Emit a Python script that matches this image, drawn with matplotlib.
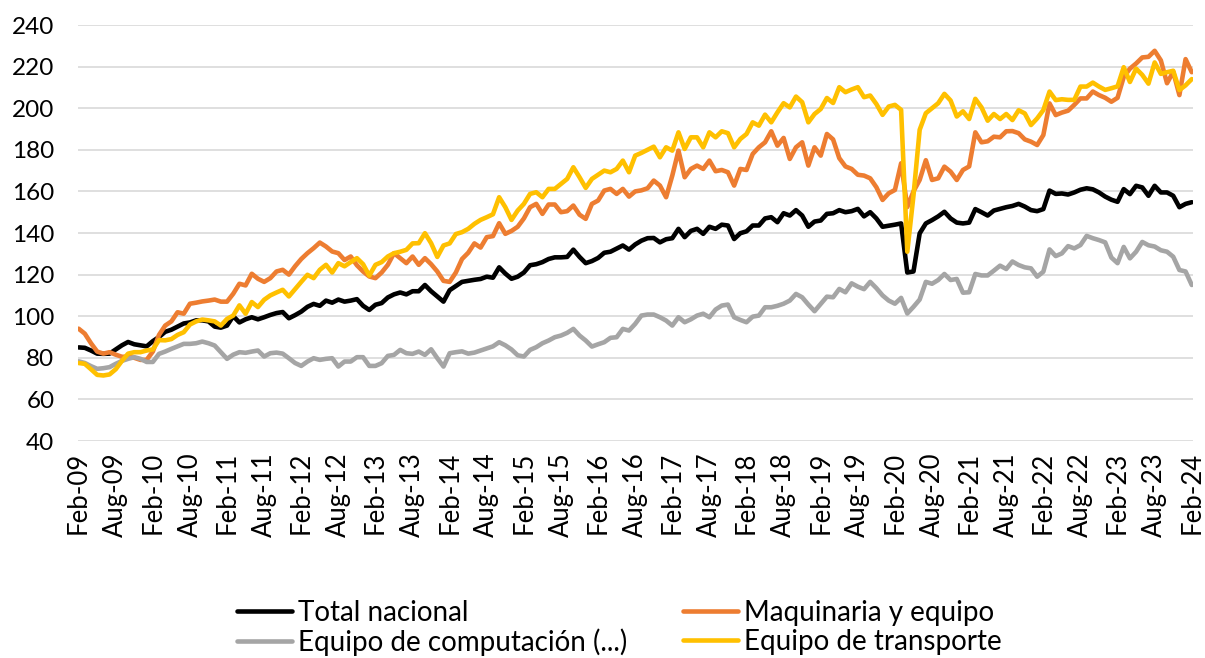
import numpy as np
import pandas as pd
import matplotlib
matplotlib.use("Agg")
import matplotlib.pyplot as plt

plt.rcParams["font.family"] = ["Lato", "DejaVu Sans"]

# meses feb-2009 .. feb-2024
meses = pd.date_range("2009-02-01", "2024-02-01", freq="MS")
etiquetas = [m.strftime("%b-%y") for m in meses]

total_nacional = [
    85, 84.8, 83.5, 82, 81.9, 82, 84, 86, 87.6, 86.5, 86, 85.5,
    88, 90, 92.5, 93.5, 95, 96.5, 97, 98, 98, 97.5, 95, 94.5,
    95.5, 100, 97, 98.5, 99.5, 98.5, 99.5, 100.6, 101.5, 102, 99, 100.5,
    102.2, 104.5, 105.9, 105, 107.5, 106.5, 108, 107, 107.5, 108.2, 105, 103,
    105.5, 106.3, 109, 110.5, 111.4, 110.5, 112, 112, 115, 112, 109.5, 107,
    112.5, 114.5, 116.5, 117, 117.5, 117.9, 119, 118.5, 123.5, 120.5, 118, 119,
    121, 124.5, 125, 126, 127.5, 128.3, 128.3, 128.5, 132, 128.5, 125.5, 126.5,
    128, 130.5, 131, 132.5, 134, 132, 134.5, 136.3, 137.5, 137.6, 135.5, 137,
    137.5, 142, 138, 141, 142, 139.6, 143, 142, 144, 143.6, 137.1, 139.9,
    140.8, 143.6, 143.6, 147, 147.6, 145.2, 149.5, 148.4, 151, 148.4, 143, 145.5,
    146, 149.2, 149.5, 151, 150, 150.5, 151.6, 148, 150, 147, 143, 143.5,
    144, 144.6, 121, 121.5, 139.8, 144.6, 146.2, 148, 150.2, 147, 145, 144.6,
    145, 151.5, 150, 148.4, 150.8, 151.6, 152.4, 153, 154, 152.7, 151, 150.5,
    151.5, 160.4, 158.8, 159, 158.5, 159.5, 160.8, 161.5, 161, 159.5, 157.5, 156,
    155, 161.1, 158.7, 162.7, 161.9, 157.9, 162.7, 159.5, 159.5, 157.9, 152.4, 154, 154.8,
]

maquinaria = [
    94, 91.6, 87, 83, 82, 82.7, 81.5, 80.5, 80.5, 80, 79, 79,
    83, 91, 95.5, 97.5, 101.9, 101.2, 106, 106.5, 107.1, 107.5, 108, 107,
    107, 110.8, 115.6, 114.8, 120.4, 118, 116.5, 118.3, 121.5, 122.3, 120, 124,
    127.5, 130.3, 132.7, 135.4, 133.5, 131.1, 130.3, 127, 128.7, 124.5, 121.5, 119.1,
    118.3, 121, 124.7, 130.3, 127.9, 125.5, 128.7, 124.7, 127.9, 125, 121.5, 117,
    116.5, 121, 127.5, 130.5, 135, 133, 138, 138.5, 144.7, 139.6, 141, 143,
    147, 152.4, 154, 149.2, 153.7, 153.7, 150, 150.5, 153.2, 148.8, 146.8, 154,
    155.6, 160.4, 161.2, 158.8, 161.2, 157.5, 160, 160.5, 161.5, 165.2, 162.8, 157.2,
    167.6, 179.6, 166.8, 170.8, 172.4, 170.8, 174.8, 169.7, 170.3, 169.2, 162.8, 170.8,
    170.3, 178, 181.2, 183.6, 188.9, 182, 185.7, 175.6, 181.2, 183.6, 172.4, 181.2,
    177.2, 187.6, 185, 176, 172, 170.8, 168, 167.6, 166.3, 162, 155.9, 159.1,
    160.7, 173.5, 152.5, 160, 165.5, 175, 165.5, 166.3, 171.9, 169.5, 165.5, 170.3,
    172, 188.4, 183.6, 184.1, 186.3, 186, 188.9, 189, 188, 185, 183.9, 182.3,
    187.1, 202.3, 196.7, 197.9, 198.8, 201.6, 204.7, 204.7, 208, 206.3, 205, 203.1,
    205, 215, 219, 221.5, 224.4, 224.7, 227.6, 223, 212, 217.5, 206.3, 223.6, 217.3,
]

computacion = [
    78.3, 77.5, 76, 74.7, 75, 75.5, 77.1, 78.5, 79.5, 80.3, 79.5, 78,
    78, 81.9, 83, 84.3, 85.5, 86.7, 86.7, 87, 87.8, 87, 85.9, 82.7,
    79.5, 81.5, 82.7, 82.4, 83, 83.5, 80.6, 82.2, 82.5, 82, 79.8, 77.5,
    76.1, 78.2, 79.8, 79, 79.5, 79.8, 75.8, 78.2, 78.2, 80.3, 80.3, 76.1,
    76.1, 77.4, 80.9, 81.4, 83.8, 82.2, 81.9, 83, 81.4, 84.1, 79.8, 75.8,
    82.2, 82.7, 83.1, 82, 82.5, 83.5, 84.5, 85.5, 87.5, 86, 84, 81.2,
    80.6, 83.8, 85.1, 87, 88.3, 89.9, 90.7, 92, 93.9, 90.7, 88.3, 85.4,
    86.5, 87.5, 89.6, 89.9, 93.9, 93.1, 96.3, 100.3, 100.8, 100.8, 99.5, 97.9,
    95.5, 99.5, 97.1, 98.5, 100.3, 101.2, 99.5, 103.2, 105.1, 105.6, 99.5, 98.2,
    97.1, 99.8, 100.3, 104.3, 104.3, 105, 106, 107.5, 110.7, 109.1, 105.6, 102.4,
    105.9, 109.4, 109.1, 113.1, 111.5, 115.8, 114.2, 113, 116.5, 113.5, 110, 107.5,
    106, 108.8, 101.3, 104.5, 108, 116.5, 115.6, 117.4, 120.3, 117.4, 117.9, 111.3,
    111.5, 120.3, 119.6, 119.6, 121.9, 124.3, 122.7, 126.3, 124.6, 123.5, 123, 119,
    121.4, 132.1, 128.9, 130.2, 133.7, 132.6, 134.2, 138.6, 137.5, 136.6, 135.5, 128.2,
    125.5, 133.3, 127.8, 131, 135.7, 134.1, 133.5, 131.7, 131, 128.6, 122.2, 121.5, 115,
]

transporte = [
    77.5, 77.1, 74.5, 71.8, 71.5, 72, 74.5, 78.5, 82, 82.7, 82.7, 83.5,
    84, 88.5, 88.4, 89, 91, 92.3, 96, 97.5, 98.4, 98, 97.5, 95.5,
    98.7, 100.3, 105.2, 101.2, 106.8, 104.4, 107.9, 110, 111.4, 112.7, 109.5, 113,
    116.5, 119.9, 118.3, 122.3, 124.7, 121, 125.5, 124, 126, 127.9, 125, 119.5,
    124.7, 126, 128.7, 130.3, 131, 131.9, 135, 135.1, 139.9, 135.1, 128.5, 134,
    135, 139.5, 140.4, 142, 144.4, 146.3, 147.6, 149, 157.2, 152.4, 146.3, 150.8,
    154, 158.8, 159.6, 157.2, 161.2, 161.2, 163.6, 166, 171.6, 166.8, 161.7, 166,
    168, 170, 169.2, 170.8, 174.8, 169.2, 177.2, 178.5, 180, 181.5, 176.4, 181.2,
    179.6, 188.4, 180.4, 186, 186, 181.2, 188.4, 186, 188.9, 188, 181.2, 185.2,
    187.6, 193.2, 191.6, 196.9, 193.2, 198, 202.4, 200.4, 205.6, 202.9, 193.2, 197.2,
    199.6, 204.9, 202.5, 210.1, 207.7, 209, 210.1, 205.3, 206.1, 202, 196.8, 200.8,
    201.6, 199.2, 131, 158, 189.6, 197.6, 200, 202.4, 206.9, 203.7, 196, 198.5,
    194.8, 204.5, 200.4, 194, 197.2, 194.8, 197.2, 194.3, 199, 197.5, 191.9, 195.1,
    199.1, 208, 203.9, 204.3, 204, 204, 210.4, 210.4, 212.3, 210.4, 208.8, 209.6,
    210.5, 219.7, 212.6, 219, 216, 211.8, 222, 216.5, 217.3, 218, 208.7, 211, 214,
]

series = [
    (total_nacional, "#000000", "Total nacional"),
    (maquinaria, "#ED7D31", "Maquinaria y equipo"),
    (computacion, "#A5A5A5", "Equipo de computación (...)"),
    (transporte, "#FFC000", "Equipo de transporte"),
]

fig = plt.figure(figsize=(12.05, 6.58), dpi=100)
ax = fig.add_axes([78 / 1205, 1 - 441 / 658, (1193 - 78) / 1205, (441 - 25) / 658])

lineas = {}
for datos, color, nombre in series:
    l, = ax.plot(np.arange(len(datos)), datos, color=color, lw=3.3,
                 solid_joinstyle="round", solid_capstyle="round", label=nombre)
    lineas[nombre] = l

ax.set_ylim(40, 240)
ax.set_yticks(range(40, 241, 20))
ax.set_xlim(-0.1, 180.2)
ax.set_xticks(range(0, len(meses), 6))
ax.set_xticklabels(etiquetas[::6], rotation=90)
ax.grid(axis="y", color="#D9D9D9", lw=1.2)
ax.set_axisbelow(True)
for s in ax.spines.values():
    s.set_visible(False)
ax.tick_params(axis="both", length=0, colors="#000000")
ax.tick_params(axis="y", pad=17, labelsize=17.5)
ax.tick_params(axis="x", pad=8, labelsize=18.5)

# orden para que la primera fila sea Total / Maquinaria
orden = ["Total nacional", "Equipo de computación (...)", "Maquinaria y equipo", "Equipo de transporte"]
fig.legend([lineas[n] for n in orden], orden, ncol=2, loc="center",
           bbox_to_anchor=(619 / 1205, 1 - 628 / 658), frameon=False, fontsize=20,
           handlelength=2.0, handletextpad=0.2, columnspacing=2.0, labelspacing=0.1)

fig.savefig("out.png", dpi=100)
